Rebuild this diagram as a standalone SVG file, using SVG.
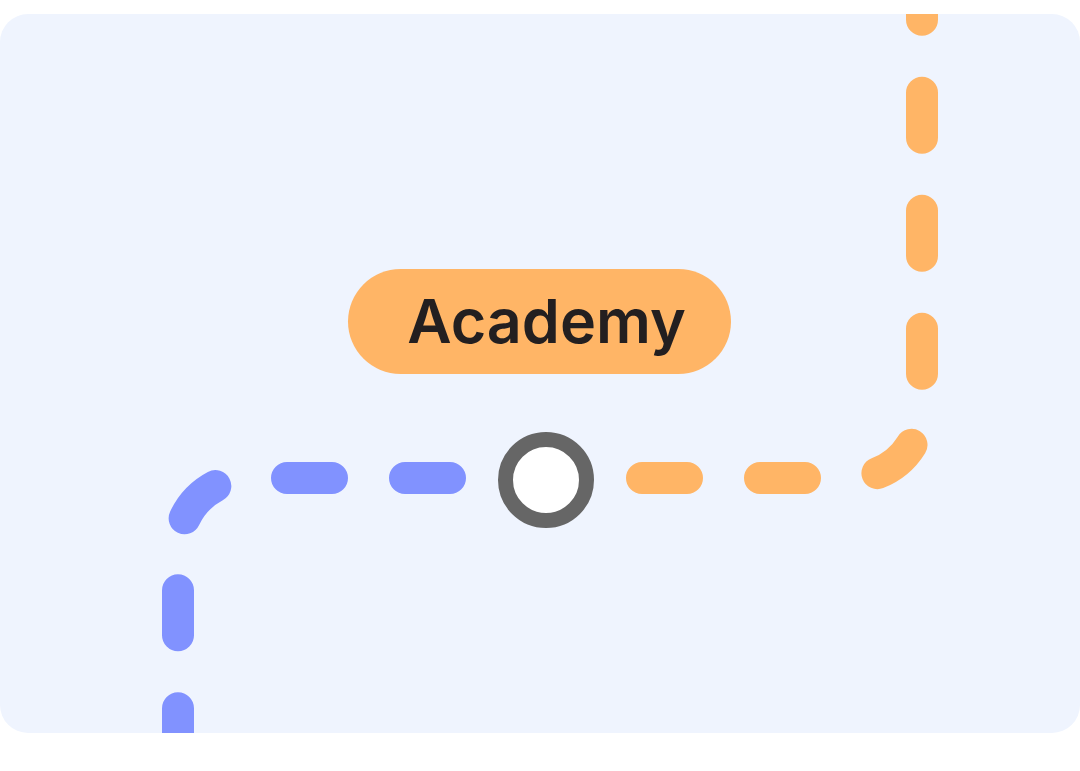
<svg xmlns="http://www.w3.org/2000/svg" width="1080" height="771" viewBox="0 0 1080 771">
  <defs>
    <clipPath id="card-clip">
      <rect x="0" y="14" width="1080" height="719" rx="28" ry="28"/>
    </clipPath>
  </defs>
  <style>
    .dash { fill: none; stroke-width: 32; stroke-linecap: round; stroke-dasharray: 45 73; }
    .blue { stroke: #8192FF; }
    .orange { stroke: #FFB566; }
    .label-text { font-family: Inter, "Noto Sans", "Liberation Sans", sans-serif; font-weight: 600; font-size: 61px; fill: #231F20; }
  </style>
  <rect id="card" x="0" y="14" width="1080" height="719" rx="28" ry="28" fill="#EFF4FE"/>
  <g id="connectors" clip-path="url(#card-clip)">
    <path class="dash orange" d="M642 478 H852 A70 70 0 0 0 922 408 V-40"/>
    <path class="dash blue" d="M450 478 H248 A70 70 0 0 0 178 548 V780"/>
  </g>
  <g id="node-center">
    <circle cx="546" cy="480" r="40.5" fill="#FFFFFF" stroke="#666666" stroke-width="15"/>
  </g>
  <g id="node-academy">
    <rect x="348" y="269" width="383" height="105" rx="52.5" ry="52.5" fill="#FFB566"/>
    <text class="label-text" x="546.5" y="343" text-anchor="middle">Academy</text>
  </g>
</svg>
